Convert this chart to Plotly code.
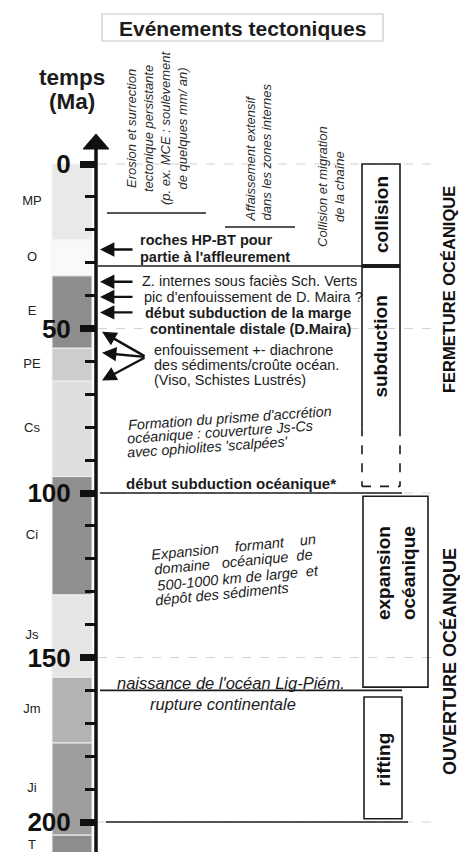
import plotly.graph_objects as go

# ---------------- data ----------------
periods = ["MP", "O", "E", "PE", "Cs", "Ci", "Js", "Jm", "Ji", "T"]
period_start = [0, 23, 34, 56, 66, 95, 131, 156, 176, 204]
period_end = [23, 34, 56, 66, 95, 131, 156, 176, 204, 212]
period_colors = ["#e9e9e9", "#f9f9f9", "#8d8d8d", "#cdcdcd", "#dedede",
                 "#8f8f8f", "#e6e6e6", "#b3b3b3", "#9e9e9e", "#8d8d8d"]

major_ticks = [0, 50, 100, 150, 200]
minor_ticks = [10, 20, 30, 40, 60, 70, 80, 90, 110, 120, 130, 140, 160, 170, 180, 190]

event_lines = ["roches HP-BT pour", "partie à l'affleurement",
               "Z. internes sous faciès Sch. Verts", "pic d'enfouissement de D. Maira ?",
               "début subduction de la marge", "continentale distale (D.Maira)",
               "enfouissement +- diachrone", "des sédiments/croûte océan.",
               "(Viso, Schistes Lustrés)"]
event_bold = [True, True, False, False, True, True, False, False, False]
event_ages = [26.0, 35.8, 40.4, 45.1]          # arrows pointing at the time axis
burial_ages = [51.0, 57.4, 65.8]               # fan of arrows (enfouissement)

prism_lines = ["Formation du prisme d'accrétion", "océanique : couverture Js-Cs",
               "avec ophiolites 'scalpées'"]
expansion_lines = ["Expansion\u00a0\u00a0\u00a0 formant\u00a0\u00a0\u00a0 un",
                   "domaine\u00a0\u00a0 océanique\u00a0 de",
                   "500-1000 km de large\u00a0 et",
                   "dépôt des sédiments"]

phases = ["collision", "subduction", "expansion<br>océanique", "rifting"]
phase_start = [0, 31, 101, 162]
phase_end = [31, 80, 159, 199]
subduction_uncertain_end = 98
boundary_ages = [31, 100, 160, 200]

# ---------------- layout helpers ----------------
FONT = "Liberation Sans, Arial, sans-serif"
INK = "#1c1c1c"
PX_PER_MA = 3.29
Y0_PX = 164.0


def Y(px):
    return (px - Y0_PX) / PX_PER_MA


fig = go.Figure()

# geological column
fig.add_trace(go.Bar(
    x=[72] * len(periods),
    y=[e - s for s, e in zip(period_start, period_end)],
    base=period_start, width=40,
    marker=dict(color=period_colors, line=dict(color="#f2f2f2", width=1)),
    hoverinfo="skip"))

label_y = [(s + min(e, 210.5)) / 2 for s, e in zip(period_start, period_end)]
fig.add_trace(go.Scatter(
    x=[32] * len(periods), y=label_y, mode="text", text=periods,
    textfont=dict(family=FONT, size=13, color="#222"), hoverinfo="skip"))

shapes = []
# dashed guide lines at major ticks
for t in major_ticks:
    shapes.append(dict(type="line", xref="x", yref="y", x0=98, x1=432, y0=t, y1=t,
                       line=dict(color="#d4d4d4", width=1, dash="dash"), layer="below"))
# time axis line + arrow head
shapes.append(dict(type="line", xref="x", yref="y", x0=96, x1=96, y0=Y(146), y1=215,
                   line=dict(color="#111", width=3.5)))
shapes.append(dict(type="path", xref="x", yref="y",
                   path=f"M 83,{Y(149)} L 109,{Y(149)} L 96,{Y(134)} Z",
                   fillcolor="#111", line=dict(color="#111", width=1)))
# title box
shapes.append(dict(type="rect", xref="x", yref="y", x0=102, x1=383, y0=Y(14), y1=Y(41),
                   line=dict(color="#c8c8c8", width=1.2), fillcolor="white", layer="below"))
# underlines of rotated headings
shapes.append(dict(type="line", xref="x", yref="y", x0=107, x1=206, y0=Y(213), y1=Y(213),
                   line=dict(color=INK, width=1.4)))
shapes.append(dict(type="line", xref="x", yref="y", x0=225, x1=295, y0=Y(227), y1=Y(227),
                   line=dict(color=INK, width=1.4)))
# boundary lines
bx = [(98, 400), (100, 402), (100, 402), (106, 408)]
for a, (x0, x1) in zip(boundary_ages, bx):
    shapes.append(dict(type="line", xref="x", yref="y", x0=x0, x1=x1, y0=a, y1=a,
                       line=dict(color=INK, width=1.6)))
shapes.append(dict(type="line", xref="x", yref="y", x0=362, x1=400,
                   y0=phase_end[0], y1=phase_end[0], line=dict(color=INK, width=4)))
# phase boxes
box_x = [(362, 400), (362, 400), (363, 428), (364, 402)]
for i, (x0, x1) in enumerate(box_x):
    if i == 1:
        for xx in (x0, x1):
            shapes.append(dict(type="line", xref="x", yref="y", x0=xx, x1=xx,
                               y0=phase_start[i], y1=phase_end[i],
                               line=dict(color=INK, width=1.6)))
            shapes.append(dict(type="line", xref="x", yref="y", x0=xx, x1=xx,
                               y0=phase_end[i], y1=subduction_uncertain_end,
                               line=dict(color=INK, width=1.6, dash="dash")))
        shapes.append(dict(type="line", xref="x", yref="y", x0=x0, x1=x1,
                           y0=subduction_uncertain_end, y1=subduction_uncertain_end,
                           line=dict(color=INK, width=1.6, dash="dash")))
    else:
        shapes.append(dict(type="rect", xref="x", yref="y", x0=x0, x1=x1,
                           y0=phase_start[i], y1=phase_end[i],
                           line=dict(color=INK, width=1.6), fillcolor="rgba(0,0,0,0)"))

ann = []


def txt(text, x, y, size, bold=False, italic=False, xanchor="left", angle=0,
        align="left", color=INK):
    ann.append(dict(text=text, x=x, y=y, xref="x", yref="y", showarrow=False,
                    xanchor=xanchor, yanchor="middle", textangle=angle, align=align,
                    font=dict(family=FONT, size=size, color=color,
                              weight="bold" if bold else "normal",
                              style="italic" if italic else "normal")))


# title and axis title
txt("Evénements tectoniques", 242, Y(28), 21, bold=True, xanchor="center", align="center")
txt("temps", 72, Y(77), 22.5, bold=True, xanchor="center")
txt("(Ma)", 72, Y(101), 22.5, bold=True, xanchor="center")

# rotated headings
txt("Erosion et surrection<br>tectonique persistante<br>(p. ex. MCE : soulèvement<br>de quelques mm/ an)",
    157, Y(128), 13, italic=True, xanchor="center", angle=-90, align="center", color="#2a2a2a")
txt("Affaissement extensif<br>dans les zones internes",
    258.5, Y(153), 13, italic=True, xanchor="center", angle=-90, align="left", color="#2a2a2a")
txt("Collision et migration<br>de la chaîne",
    331, Y(187), 13, italic=True, xanchor="center", angle=-90, align="center", color="#2a2a2a")

# event texts
ev_pos = [(138, 240), (138, 257), (140, 281), (142, 297), (143, 313), (148, 329),
          (152, 350), (152, 365), (152, 380)]
for t, b, (x, ypx) in zip(event_lines, event_bold, ev_pos):
    txt(t, x, Y(ypx), 14.5, bold=b)

# event arrows
for a in event_ages:
    ann.append(dict(text="", x=100, y=a, ax=134, ay=a, xref="x", yref="y",
                    axref="x", ayref="y", showarrow=True, arrowhead=2, arrowsize=1.2,
                    arrowwidth=2.4, arrowcolor="#111", standoff=0))
for a in burial_ages:
    ann.append(dict(text="", x=102, y=a, ax=146, ay=Y(357), xref="x", yref="y",
                    axref="x", ayref="y", showarrow=True, arrowhead=2, arrowsize=1.2,
                    arrowwidth=2.4, arrowcolor="#111", standoff=0))

# accretion prism (tilted)
for t, (x, ypx) in zip(prism_lines, [(229.5, 418), (220, 432), (207.5, 447)]):
    txt(t, x, Y(ypx), 14.3, italic=True, xanchor="center", angle=-4)
txt("début subduction océanique*", 231, Y(483), 15, bold=True, xanchor="center")

# expansion (tilted)
for t, (x, ypx) in zip(expansion_lines, [(233, 547), (233, 562), (237.5, 578), (222, 594)]):
    txt(t, x, Y(ypx), 14.5, italic=True, xanchor="center", angle=-5.5)

txt("naissance de l'océan Lig-Piém.", 115, Y(683), 16.5, italic=True)
txt("rupture continentale", 148, Y(704), 16.5, italic=True)

# phase labels
phase_label_pos = [(381, 15.5), (381, 55.5), (395.5, 124.5), (383, 181)]
for p, (x, y) in zip(phases, phase_label_pos):
    txt(p, x, y, 19, bold=True, xanchor="center", angle=-90, align="center", color="#111")

txt("FERMETURE OCÉANIQUE", 449, Y(290), 16.5, bold=True, xanchor="center", angle=-90, color="#111")
txt("OUVERTURE OCÉANIQUE", 449, Y(662), 18, bold=True, xanchor="center", angle=-90, color="#111")

fig.update_layout(
    width=460, height=852, margin=dict(l=0, r=0, t=0, b=0),
    paper_bgcolor="white", plot_bgcolor="white", showlegend=False,
    barmode="overlay", shapes=shapes, annotations=ann,
    xaxis=dict(range=[0, 460], visible=False, fixedrange=True),
    yaxis=dict(range=[Y(852), Y(0)], anchor="free", position=96 / 460, side="left",
               showline=False, showgrid=False, zeroline=False,
               tickmode="array", tickvals=major_ticks, ticktext=[str(t) for t in major_ticks],
               ticks="outside", ticklen=16, tickwidth=7, tickcolor="#111",
               ticklabelstandoff=4,
               tickfont=dict(family=FONT, size=26, color="#111", weight="bold"),
               minor=dict(tickvals=minor_ticks, ticks="outside", ticklen=11,
                          tickwidth=3, tickcolor="#111", showgrid=False),
               fixedrange=True),
)

fig.write_html("out.html", config={"displayModeBar": False},
               post_script="document.body.style.margin='0';document.body.style.overflow='hidden';")
